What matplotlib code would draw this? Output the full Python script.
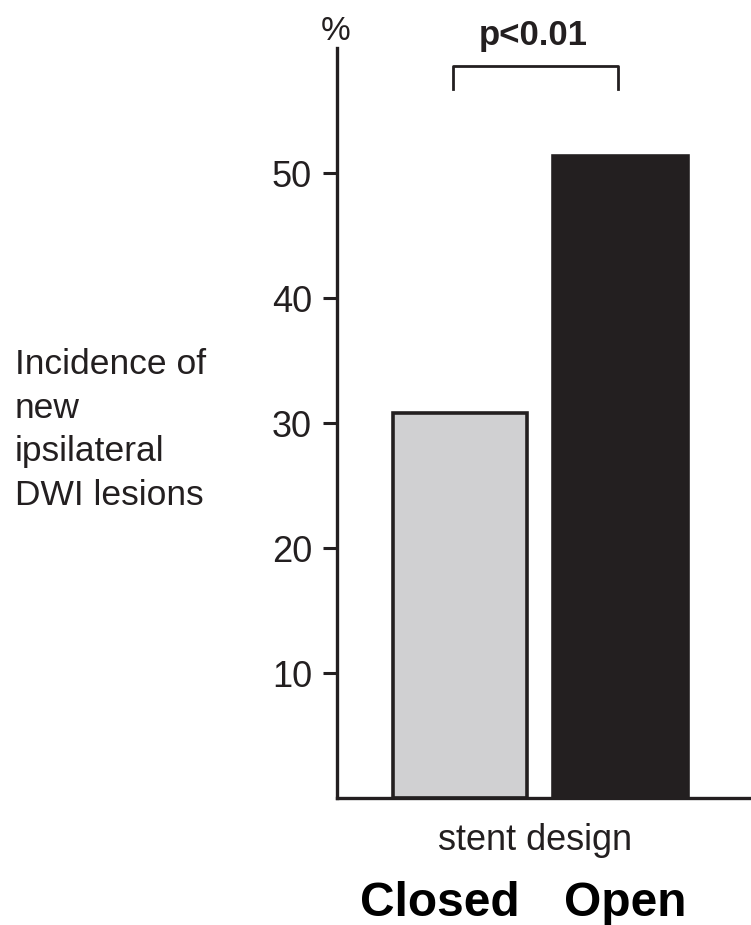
import matplotlib.pyplot as plt
import matplotlib.transforms as mtransforms

plt.rcParams["font.family"] = ["Liberation Sans", "DejaVu Sans"]

# Data
categories = ["Closed", "Open"]
incidence = [30.8, 51.4]
bar_colors = ["#d0d0d2", "#231f20"]
y_ticks = [10, 20, 30, 40, 50]
p_text = "p<0.01"

INK = "#231f20"

fig = plt.figure(figsize=(7.51, 9.25), dpi=100)
ax = fig.add_axes([0.4487, 0.1373, 0.5513, 0.8107])

x = list(range(len(categories)))
ax.bar(x, incidence, width=0.835, color=bar_colors, edgecolor=INK, linewidth=2.6)

ax.set_xlim(-0.766, 1.813)
ax.set_ylim(0, 60)
ax.set_yticks(y_ticks)
ax.set_yticklabels([str(t) for t in y_ticks], fontsize=26, color=INK)
ax.tick_params(axis="y", direction="out", length=10, width=2.2, color=INK, pad=8)
ax.set_xticks([])

for side in ["top", "right"]:
    ax.spines[side].set_visible(False)
for side in ["left", "bottom"]:
    ax.spines[side].set_linewidth(2.4)
    ax.spines[side].set_color(INK)
    ax.spines[side].set_capstyle("projecting")

# significance bracket
ax.plot([-0.044, -0.044, 0.984, 0.984], [56.7, 58.6, 58.6, 56.7],
        color=INK, linewidth=2.0, clip_on=False)
ax.text(0.455, 61.0, p_text, ha="center", va="center", fontsize=25,
        fontweight="bold", color=INK, clip_on=False)
ax.text(-0.775, 61.3, "%", ha="center", va="center", fontsize=24,
        color=INK, clip_on=False)

# x labels
trans = mtransforms.blended_transform_factory(ax.transData, fig.transFigure)
ax.text(0.47, 1 - 841 / 925, "stent design", ha="center", va="center",
        fontsize=26, color=INK, transform=trans)
ax.text(-0.125, 1 - 903 / 925, categories[0], ha="center", va="center",
        fontsize=34.5, fontweight="bold", color="black", transform=trans)
ax.text(1.03, 1 - 903 / 925, categories[1], ha="center", va="center",
        fontsize=34.5, fontweight="bold", color="black", transform=trans)

# y label
fig.text(15 / 751, 1 - 430 / 925, "Incidence of\nnew\nipsilateral\nDWI lesions",
         ha="left", va="center", fontsize=25.5, color=INK, linespacing=1.4)

fig.savefig("out.png", dpi=100)
